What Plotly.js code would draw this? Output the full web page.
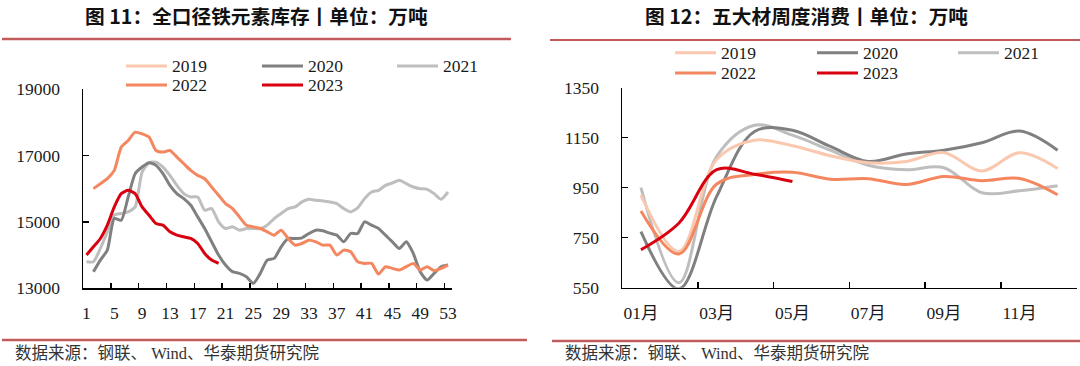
<!DOCTYPE html>
<html><head><meta charset="utf-8">
<script src="https://cdn.plot.ly/plotly-3.0.1.min.js"></script>
<style>html,body{margin:0;padding:0;background:#fff}#chart{width:1080px;height:366px}</style>
</head><body><div id="chart"></div>
<script>
// ---------------- DATA ----------------
const weeks = [1,2,3,4,5,6,7,8,9,10,11,12,13,14,15,16,17,18,19,20,21,22,23,24,25,26,27,28,29,30,31,32,33,34,35,36,37,38,39,40,41,42,43,44,45,46,47,48,49,50,51,52,53];
const weekTickLabels = [1,5,9,13,17,21,25,29,33,37,41,45,49,53];
const invTickVals = [13000,15000,17000,19000];

const inv2020 = [null,13500,13850,14150,15100,15050,15750,16450,16650,16780,16700,16450,16100,15850,15700,15500,15150,14800,14400,14000,13700,13500,13450,13350,13150,13450,13850,13900,14250,14500,14500,14520,14650,14750,14730,14660,14600,14400,14650,14650,15000,14900,14800,14600,14400,14200,14400,14050,13500,13250,13450,13650,13700];
const inv2021 = [13800,13800,14200,14700,15200,15250,15300,15450,16500,16780,16800,16650,16400,16100,15850,15750,15750,15350,15400,15000,14800,14850,14750,14800,14800,14800,14900,15100,15250,15400,15450,15600,15680,15650,15630,15600,15550,15400,15300,15420,15700,15900,15950,16100,16170,16250,16150,16050,16000,15980,15850,15680,15900];
const inv2022 = [null,16000,16150,16300,16550,17250,17450,17700,17650,17550,17150,17100,17150,16950,16750,16550,16400,16300,16050,15800,15550,15400,15150,14900,14850,14800,14700,14600,14750,14500,14300,14350,14450,14400,14300,14300,14000,14150,14100,13800,13750,13750,13430,13650,13600,13550,13650,13750,13550,13650,13530,13600,13700];
const inv2023 = [14000,14250,14500,14900,15450,15850,15950,15850,15450,15200,14950,14900,14700,14600,14550,14500,14350,14050,13850,13750];

const months = [1,2,3,4,5,6,7,8,9,10,11,12];
const monthTickVals = [1,3,5,7,9,11];
const monthTickText = ['01月','03月','05月','07月','09月','11月'];
const consTickVals = [550,750,950,1150,1350];

const cons2019 = [920,695,1063,1140,1118,1078,1050,1055,1090,1017,1090,1027];
const cons2020 = [774,545,915,1175,1180,1115,1055,1085,1100,1130,1177,1100];
const cons2021 = [950,570,1075,1200,1160,1100,1040,1022,1030,930,938,958];
const cons2022 = [857,685,965,1003,1012,984,986,963,995,978,987,922];
const cons2023 = [702,808,1022,1004,975];

const seriesNames = ['2019','2020','2021','2022','2023'];

const titleLeft = '图 11：全口径铁元素库存丨单位：万吨';
const titleRight = '图 12：五大材周度消费丨单位：万吨';
const sourceText = '数据来源：钢联、 Wind、华泰期货研究院';

// ---------------- STYLE ----------------
const colors = {'2019':'#F9C8AE','2020':'#808080','2021':'#BEBEBE','2022':'#F4875F','2023':'#D9000F'};
const W = 1080, H = 366;
const fx = x => x / W, fy = y => 1 - y / H;
const serif = 'Liberation Serif, Times New Roman, Noto Sans CJK SC, serif';
const cjk = 'Noto Sans CJK SC, sans-serif';
const headColor = '#C25B5B';

const axisBase = {
  showgrid:false, zeroline:false, linecolor:'#000', linewidth:1.5,
  tickcolor:'#000', tickwidth:1.5, ticklen:5.5, fixedrange:true,
  tickfont:{family:serif, size:17.5, color:'#1a1a1a'}
};

const traces = [];
function addLine(xs, ys, name, xa, ya, smooth) {
  traces.push({type:'scatter', mode:'lines', x:xs.slice(0, ys.length), y:ys, name:name,
    xaxis:xa, yaxis:ya, connectgaps:false, hoverinfo:'skip',
    line:{color:colors[name], width:3, shape:'spline', smoothing:smooth}});
}
// left: base axis x (labels) + overlay axis x3 (tick marks)
addLine(weeks, inv2021, '2021', 'x', 'y', 0.6);
addLine(weeks, inv2020, '2020', 'x', 'y', 0.6);
addLine(weeks, inv2022, '2022', 'x3', 'y', 0.6);
addLine(weeks, inv2023, '2023', 'x3', 'y', 0.6);
// right: base axis x2 (labels) + overlay axis x4 (tick marks)
addLine(months, cons2021, '2021', 'x2', 'y2', 1);
addLine(months, cons2020, '2020', 'x2', 'y2', 1);
addLine(months, cons2019, '2019', 'x2', 'y2', 1);
addLine(months, cons2022, '2022', 'x4', 'y2', 1);
addLine(months, cons2023, '2023', 'x4', 'y2', 1);

const domL = [fx(83), fx(451.5)], domR = [fx(622), fx(1076.5)];
const layout = {
  width:W, height:H, margin:{l:0,r:0,t:0,b:0}, showlegend:false,
  paper_bgcolor:'#fff', plot_bgcolor:'rgba(0,0,0,0)',
  xaxis: Object.assign({}, axisBase, {domain:domL, range:[0.5,53.5], anchor:'y',
    tickmode:'array', tickvals:weekTickLabels, ticktext:weekTickLabels.map(String),
    ticks:'', showline:true, ticklabelstandoff:8}),
  xaxis3: Object.assign({}, axisBase, {domain:domL, range:[0.5,53.5], anchor:'y', overlaying:'x',
    tickmode:'array', tickvals:weekTickLabels.map(w => w - 0.5), ticks:'inside',
    showticklabels:false, showline:false}),
  yaxis: Object.assign({}, axisBase, {domain:[fy(288.3), fy(89)], range:[13000,19000], anchor:'x',
    tickmode:'array', tickvals:invTickVals, tickformat:'d', ticks:'inside', showline:true, ticklabelstandoff:18}),
  xaxis2: Object.assign({}, axisBase, {domain:domR, range:[0.5,12.5], anchor:'y2',
    tickmode:'array', tickvals:monthTickVals, ticktext:monthTickText,
    ticks:'', showline:true, ticklabelstandoff:9}),
  xaxis4: Object.assign({}, axisBase, {domain:domR, range:[0.5,12.5], anchor:'y2', overlaying:'x2',
    tickmode:'array', tickvals:[0.5,2.5,4.5,6.5,8.5,10.5,12.5], ticks:'inside',
    showticklabels:false, showline:false}),
  yaxis2: Object.assign({}, axisBase, {domain:[fy(287.7), fy(87.7)], range:[550,1350], anchor:'x2',
    tickmode:'array', tickvals:consTickVals, tickformat:'d', ticks:'inside', showline:true, ticklabelstandoff:18}),
  shapes: [], annotations: []
};

// header / footer rules
function hline(x0, x1, y, w) {
  layout.shapes.push({type:'line', xref:'paper', yref:'paper', x0:fx(x0), x1:fx(x1), y0:fy(y), y1:fy(y),
    line:{color:headColor, width:w}});
}
hline(2, 511, 39, 2.5);
hline(550, 1080, 40, 2);
hline(2, 527, 340, 2.5);
hline(552, 1080, 341, 2.5);

function text(t, x, y, anchor, font) {
  layout.annotations.push({text:t, xref:'paper', yref:'paper', x:fx(x), y:fy(y),
    xanchor:anchor, yanchor:'middle', showarrow:false, font:font});
}
const titleFont = {family:cjk, size:19.7, color:'#111', weight:700};
text(titleLeft, 256.5, 15, 'center', titleFont);
text(titleRight, 806, 15, 'center', titleFont);
const srcFont = {family:serif, size:16.5, color:'#333'};
text(sourceText, 13, 353, 'left', srcFont);
text(sourceText, 563, 353, 'left', srcFont);

// legends (manual, two rows of three)
const legendLeft = {cols:[126, 262, 397], rows:[66, 85], len:41};
const legendRight = {cols:[675, 817, 958], rows:[52.7, 73], len:41};
function legend(spec) {
  seriesNames.forEach((n, i) => {
    const x0 = spec.cols[i % 3], y = spec.rows[Math.floor(i / 3)];
    layout.shapes.push({type:'line', xref:'paper', yref:'paper', x0:fx(x0), x1:fx(x0 + spec.len),
      y0:fy(y), y1:fy(y), line:{color:colors[n], width:3}});
    text(n, x0 + spec.len + 3, y, 'left', {family:serif, size:17.5, color:'#1a1a1a'});
  });
}
legend(legendLeft);
legend(legendRight);

Plotly.newPlot('chart', traces, layout, {displayModeBar:false, staticPlot:true});
</script></body></html>
